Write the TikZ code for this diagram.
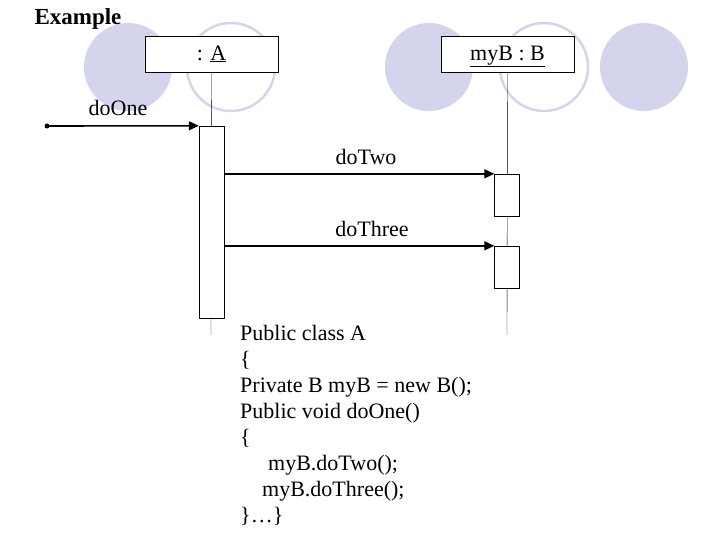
\documentclass[tikz,border=0pt]{standalone}
\usepackage{fontspec}
\setmainfont{Liberation Serif}
\usetikzlibrary{arrows.meta}
\definecolor{lav}{RGB}{212,212,236}
\tikzset{
  blob/.style={fill=lav, draw=none},
  ring/.style={draw=lav, line width=2.5pt},
  obj/.style={draw, fill=white, minimum width=133pt, minimum height=36pt, inner sep=0pt, text depth=2pt, font=\fontsize{22}{22}\selectfont},
  act/.style={draw, fill=white, minimum width=25pt, inner sep=0pt},
  msg/.style={line width=1.6pt, -{Triangle[length=10pt,width=9pt]}},
  lbl/.style={font=\fontsize{22}{22}\selectfont}
}
\begin{document}
\begin{tikzpicture}[x=1pt, y=-1pt]
\useasboundingbox (0,0) rectangle (720,540);
% background circles
\fill[blob] (128,67) circle (44);
\draw[ring] (231,67) circle (44);
\fill[blob] (429,67) circle (44);
\draw[ring] (544,67) circle (44);
\fill[blob] (644,67) circle (44);
\node[anchor=west, font=\bfseries\fontsize{23}{23}\selectfont] (title) at (31,19) {Example};
% objects and lifelines
\node[obj] (objA) at (211.5,54) {: \underline{A}};
\node[obj] (objB) at (507.5,54) {\underline{myB : B}};
\coordinate (endA) at (211,335);
\coordinate (endB) at (507,335);
\draw (objA.south) -- (endA);
\draw (objB.south) -- (endB);
% activations
\node[act, minimum height=192pt] (actA) at (211.5,222) {};
\node[act, minimum height=42pt] (actB1) at (507,195) {};
\node[act, minimum height=42pt] (actB2) at (507,267) {};
% messages
\coordinate (start) at (47,126);
\fill (start) circle (2.5);
\draw[msg] (start) -- (actA.north west);
\draw[msg] (actA.east |- actB1.north) -- (actB1.north west);
\draw[msg] (actA.east |- actB2.north) -- (actB2.north west);
\node[lbl] (one) at (118,108) {doOne};
\node[lbl] (two) at (366,157) {doTwo};
\node[lbl] (three) at (372,229) {doThree};
% code
\node[anchor=north west, align=left, inner sep=0pt, font=\fontsize{22}{26}\selectfont] (code) at (240,325) {
Public class A\\
\{\\
Private B myB = new B();\\
Public void doOne()\\
\{\\
\hspace*{28pt}myB.doTwo();\\
\hspace*{22pt}myB.doThree();\\
\}…\}};
\end{tikzpicture}
\end{document}
